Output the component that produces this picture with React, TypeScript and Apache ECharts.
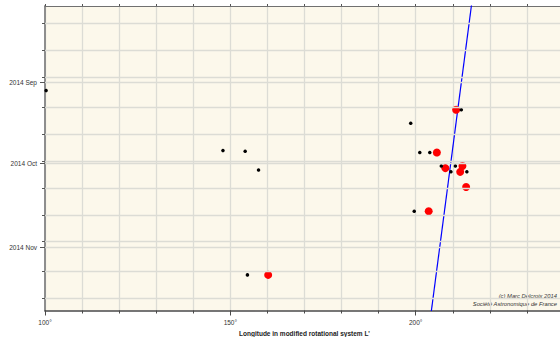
import React, { useEffect, useRef } from "react";
import * as echarts from "echarts";

// ---- data ----
const blackLon = [100.3, 148.0, 154.0, 157.6, 154.6, 198.65, 201.1, 203.8, 206.9, 209.5, 210.7, 212.3, 213.8, 199.6];
const blackDate = [
  "2014-09-03T23:00Z", "2014-09-26T05:00Z", "2014-09-26T10:00Z", "2014-10-03T10:00Z",
  "2014-11-11T07:00Z", "2014-09-16T01:00Z", "2014-09-26T22:00Z", "2014-09-26T22:00Z",
  "2014-10-01T22:00Z", "2014-10-04T02:00Z", "2014-10-01T22:00Z", "2014-09-11T02:00Z",
  "2014-10-04T02:00Z", "2014-10-18T17:00Z",
];
const redLon = [160.2, 210.9, 205.7, 208.0, 212.6, 212.0, 213.6, 203.5];
const redDate = [
  "2014-11-11T07:00Z", "2014-09-11T02:00Z", "2014-09-26T22:00Z", "2014-10-02T17:00Z",
  "2014-10-01T22:00Z", "2014-10-04T02:00Z", "2014-10-09T17:00Z", "2014-10-18T17:00Z",
];
const driftLon = [215.26, 203.71];
const driftDate = ["2014-08-01T00:00Z", "2014-11-30T00:00Z"];

const yMinDate = "2014-08-03T14:00Z";
const yMaxDate = "2014-11-24T12:00Z";
const gridDates = [
  "2014-08-10", "2014-08-20", "2014-08-30", "2014-09-01", "2014-09-10", "2014-09-20",
  "2014-09-30", "2014-10-01", "2014-10-10", "2014-10-20", "2014-10-30", "2014-11-01",
  "2014-11-10", "2014-11-20",
];
const minorTickDates = [
  "2014-08-10", "2014-08-20", "2014-08-30", "2014-09-10", "2014-09-20", "2014-09-30",
  "2014-10-10", "2014-10-20", "2014-10-30", "2014-11-10", "2014-11-20",
];
const monthDates = ["2014-09-01", "2014-10-01", "2014-11-01"];
const monthLabels = ["2014 Sep", "2014 Oct", "2014 Nov"];
const lonMajorTicks = [100, 150, 200];

const ORIGIN = Date.parse("2014-09-01T00:00Z");
const toDay = (s: string) => (Date.parse(s) - ORIGIN) / 86400000;

const FONT = "Liberation Sans";
const GRID_COLOR = "#dcdcd5";

export default function App() {
  const ref = useRef<HTMLDivElement>(null);
  useEffect(() => {
    if (!ref.current) return;
    document.body.style.margin = "0";
    document.body.style.overflow = "hidden";
    const chart = echarts.init(ref.current, undefined, { renderer: "svg" });
    const yMin = toDay(yMinDate);
    const yMax = toDay(yMaxDate);
    const monthDays = monthDates.map(toDay);
    const baseY = {
      type: "value" as const,
      inverse: true,
      min: yMin,
      max: yMax,
      position: "left" as const,
      splitLine: { show: false },
    };
    const option: any = {
      animation: false,
      backgroundColor: "#ffffff",
      grid: {
        left: 45,
        right: -4,
        top: 6,
        bottom: 26.5,
        show: true,
        backgroundColor: "#fcf8eb",
        borderWidth: 0,
        containLabel: false,
        outerBoundsMode: "none",
      },
      xAxis: [
        {
          type: "value",
          min: 100,
          max: 240,
          interval: 10,
          position: "bottom",
          axisLine: { show: true, onZero: false, lineStyle: { color: "#4a4a4a", width: 1.5 } },
          axisTick: { show: true, length: 3, lineStyle: { color: "#4a4a4a" } },
          axisLabel: {
            fontFamily: FONT,
            fontSize: 6.5,
            color: "#333",
            margin: 8,
            formatter: (v: number) => (v % 50 === 0 ? v + "°" : ""),
          },
          splitLine: { show: true, lineStyle: { color: GRID_COLOR, width: 1.3 } },
          name: "Longitude in modified rotational system L'",
          nameLocation: "middle",
          nameGap: 19.5,
          nameTextStyle: { fontFamily: FONT, fontSize: 6.5, fontWeight: "bold", color: "#222" },
        },
        {
          type: "value",
          min: 100,
          max: 240,
          position: "bottom",
          axisLine: { show: false, onZero: false },
          axisTick: { show: true, length: 5, customValues: lonMajorTicks, lineStyle: { color: "#4a4a4a" } },
          axisLabel: { show: false },
          splitLine: { show: false },
        },
        {
          type: "value",
          min: 100,
          max: 240,
          interval: 10,
          position: "top",
          axisLine: { show: true, onZero: false, lineStyle: { color: "#707070", width: 1 } },
          axisTick: { show: true, length: 2, lineStyle: { color: "#555" } },
          axisLabel: { show: false },
          splitLine: { show: false },
        },
      ],
      yAxis: [
        {
          ...baseY,
          axisLine: { show: true, onZero: false, lineStyle: { color: "#8e8e8e", width: 2 } },
          axisTick: { show: true, length: 3, customValues: minorTickDates.map(toDay), lineStyle: { color: "#555" } },
          axisLabel: { show: false },
        },
        {
          ...baseY,
          axisLine: { show: false, onZero: false },
          axisTick: { show: true, length: 5, customValues: monthDays, lineStyle: { color: "#555" } },
          axisLabel: {
            customValues: monthDays,
            fontFamily: FONT,
            fontSize: 6.5,
            color: "#333",
            margin: 8,
            formatter: (v: number) => {
              const i = monthDays.findIndex((m) => Math.abs(m - v) < 1e-6);
              return i >= 0 ? monthLabels[i] : "";
            },
          },
        },
      ],
      series: [
        {
          type: "line",
          xAxisIndex: 0,
          yAxisIndex: 0,
          data: [],
          silent: true,
          z: 1,
          markLine: {
            silent: true,
            symbol: "none",
            label: { show: false },
            lineStyle: { color: GRID_COLOR, width: 1.3, type: "solid" },
            data: gridDates.map((d) => ({ yAxis: toDay(d) })),
          },
        },
        {
          type: "line",
          xAxisIndex: 0,
          yAxisIndex: 0,
          data: driftLon.map((x, i) => [x, toDay(driftDate[i])]),
          showSymbol: false,
          lineStyle: { color: "#0000ff", width: 1.2 },
          clip: true,
          silent: true,
          z: 2,
        },
        {
          type: "scatter",
          xAxisIndex: 0,
          yAxisIndex: 0,
          data: redLon.map((x, i) => [x, toDay(redDate[i])]),
          symbolSize: 8,
          itemStyle: { color: "#ff0000", opacity: 1 },
          z: 3,
        },
        {
          type: "scatter",
          xAxisIndex: 0,
          yAxisIndex: 0,
          data: blackLon.map((x, i) => [x, toDay(blackDate[i])]),
          symbolSize: 3.5,
          itemStyle: { color: "#000000", opacity: 1 },
          z: 4,
        },
      ],
      graphic: [
        {
          type: "text",
          right: 3,
          top: 293,
          style: { text: "(c) Marc Delcroix 2014", fontFamily: FONT, fontSize: 5.8, fontStyle: "italic", fill: "#333", textAlign: "right" },
        },
        {
          type: "text",
          right: 3,
          top: 300.5,
          style: { text: "Société Astronomique de France", fontFamily: FONT, fontSize: 5.8, fontStyle: "italic", fill: "#333", textAlign: "right" },
        },
      ],
    };
    chart.setOption(option);
    return () => chart.dispose();
  }, []);
  return <div ref={ref} style={{ position: "absolute", left: 0, top: 0, width: 560, height: 337 }} />;
}
